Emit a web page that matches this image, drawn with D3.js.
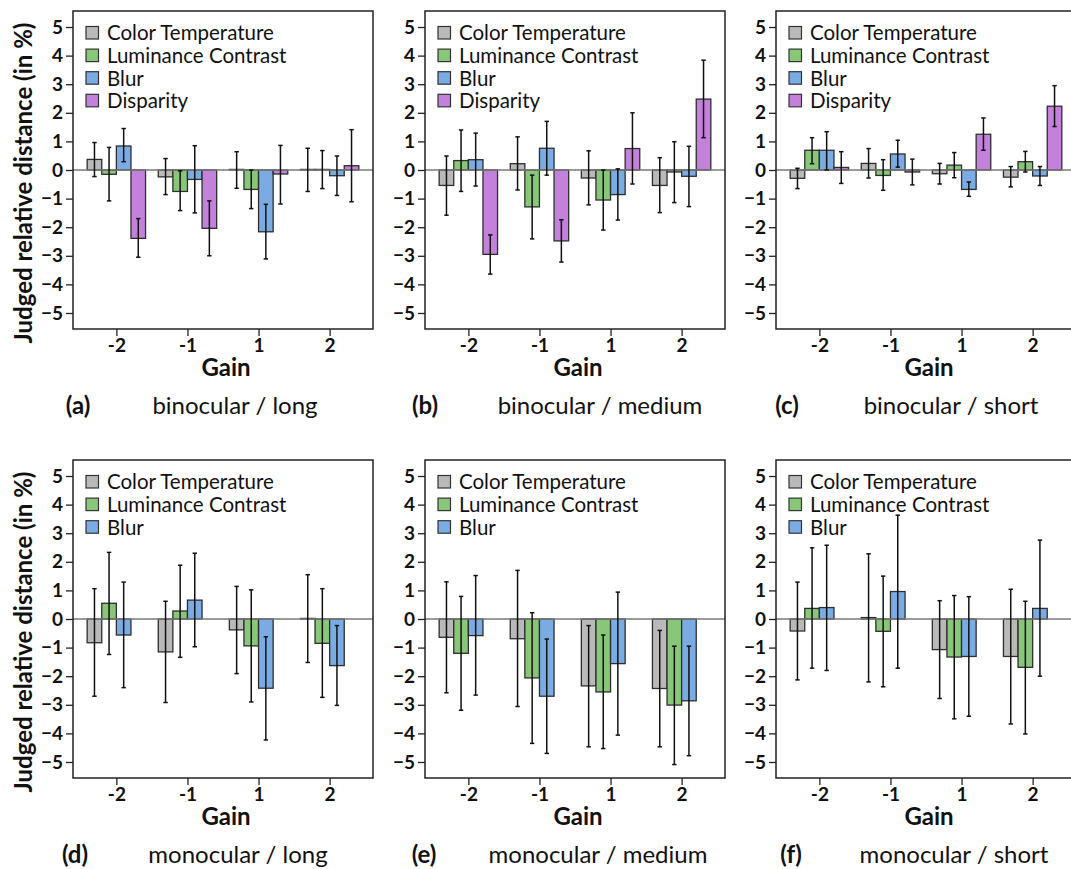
<!DOCTYPE html>
<html>
<head>
<meta charset="utf-8">
<script src="https://cdn.jsdelivr.net/npm/d3@7"></script>
<style>
  html, body { margin: 0; padding: 0; background: #fff; }
  svg { display: block; font-family: Lato, "Open Sans", sans-serif; }
</style>
</head>
<body>
<svg id="chart" width="1071" height="869"></svg>
<script>
// Categories and tick labels
const gains = ["-2", "-1", "1", "2"];
const seriesNames = ["Color Temperature", "Luminance Contrast", "Blur", "Disparity"];
const seriesColors = ["#b9b9b9", "#88c678", "#7aabe2", "#c481dc"];
const yTicks = [-5, -4, -3, -2, -1, 0, 1, 2, 3, 4, 5];

// Mean judged relative distance (%) per series (rows) and gain (columns)
const meanA = [[0.37, -0.24, 0.02, 0.02], [-0.15, -0.75, -0.68, 0.02], [0.84, -0.33, -2.16, -0.20], [-2.39, -2.04, -0.14, 0.15]];
const lowA  = [[-0.23, -0.86, -0.64, -0.75], [-1.08, -1.42, -1.35, -0.65], [0.29, -1.50, -3.11, -0.89], [-3.05, -3.00, -1.19, -1.11]];
const highA = [[0.96, 0.40, 0.64, 0.76], [0.79, -0.03, 0.00, 0.68], [1.45, 0.85, -1.20, 0.49], [-1.70, -1.08, 0.86, 1.41]];

const meanB = [[-0.54, 0.22, -0.28, -0.54], [0.33, -1.29, -1.05, -0.07], [0.36, 0.76, -0.86, -0.22], [-2.95, -2.48, 0.75, 2.48]];
const lowB  = [[-1.58, -0.70, -1.22, -1.49], [-0.75, -2.41, -2.10, -1.14], [-0.56, -0.18, -1.75, -1.28], [-3.64, -3.22, -0.49, 1.13]];
const highB = [[0.49, 1.16, 0.67, 0.43], [1.40, -0.18, 0.00, 0.99], [1.29, 1.70, 0.04, 0.83], [-2.27, -1.74, 2.00, 3.84]];

const meanC = [[-0.29, 0.23, -0.13, -0.25], [0.69, -0.19, 0.17, 0.29], [0.69, 0.56, -0.68, -0.21], [0.09, -0.07, 1.25, 2.23]];
const lowC  = [[-0.65, -0.28, -0.49, -0.59], [0.22, -0.71, -0.27, -0.07], [0.00, 0.10, -0.92, -0.54], [-0.47, -0.52, 0.69, 1.52]];
const highC = [[0.06, 0.75, 0.23, 0.12], [1.13, 0.36, 0.61, 0.65], [1.34, 1.04, -0.42, 0.12], [0.64, 0.38, 1.82, 2.95]];

const meanD = [[-0.83, -1.15, -0.38, 0.02], [0.55, 0.28, -0.94, -0.85], [-0.56, 0.66, -2.42, -1.63]];
const lowD  = [[-2.70, -2.92, -1.91, -1.52], [-1.24, -1.34, -2.90, -2.74], [-2.40, -0.97, -4.23, -3.02]];
const highD = [[1.06, 0.62, 1.14, 1.55], [2.33, 1.88, 1.02, 1.06], [1.29, 2.30, -0.62, -0.23]];

const meanE = [[-0.64, -0.69, -2.34, -2.43], [-1.20, -2.06, -2.55, -3.01], [-0.58, -2.70, -1.56, -2.86]];
const lowE  = [[-2.58, -3.06, -4.47, -4.47], [-3.19, -4.35, -4.53, -5.09], [-2.66, -4.70, -4.06, -4.78]];
const highE = [[1.30, 1.70, -0.23, -0.40], [0.79, 0.22, -0.56, -0.95], [1.52, -0.70, 0.94, -0.95]];

const meanF = [[-0.42, 0.05, -1.07, -1.31], [0.37, -0.43, -1.33, -1.69], [0.40, 0.96, -1.31, 0.37]];
const lowF  = [[-2.13, -2.20, -2.78, -3.67], [-1.72, -2.37, -3.49, -4.02], [-1.80, -1.72, -3.40, -2.00]];
const highF = [[1.29, 2.28, 0.64, 1.04], [2.49, 1.50, 0.82, 0.62], [2.58, 3.63, 0.78, 2.76]];

const panelTags = ["(a)", "(b)", "(c)", "(d)", "(e)", "(f)"];
const panelTitles = ["binocular / long", "binocular / medium", "binocular / short",
                     "monocular / long", "monocular / medium", "monocular / short"];

// Layout of the 2x3 grid
const panels = [
  { mean: meanA, low: lowA, high: highA, x0: 73,  y0: 11,  tagX: 78,  titleX: 235 },
  { mean: meanB, low: lowB, high: highB, x0: 425, y0: 11,  tagX: 425, titleX: 600 },
  { mean: meanC, low: lowC, high: highC, x0: 776, y0: 11,  tagX: 787, titleX: 951 },
  { mean: meanD, low: lowD, high: highD, x0: 73,  y0: 460, tagX: 75,  titleX: 238 },
  { mean: meanE, low: lowE, high: highE, x0: 425, y0: 460, tagX: 424, titleX: 598 },
  { mean: meanF, low: lowF, high: highF, x0: 776, y0: 460, tagX: 791, titleX: 954 }
];
const W = 300, H = 318;

const svg = d3.select("#chart");

panels.forEach((p, i) => {
  const g = svg.append("g").attr("transform", `translate(${p.x0},${p.y0})`);

  const x0 = d3.scalePoint().domain(gains).range([0, W]).padding(0.61);
  const x1 = d3.scaleBand().domain(seriesNames).range([-29.2, 29.2]);
  const y = d3.scaleLinear().domain([-5.56, 5.56]).range([H, 0]);

  // rows = series, cols = gains
  const recs = [];
  p.mean.forEach((row, s) => row.forEach((v, k) => {
    recs.push({ s, gain: gains[k], v, lo: p.low[s][k], hi: p.high[s][k] });
  }));

  // Bars
  g.selectAll("rect.bar").data(recs).join("rect")
    .attr("class", "bar")
    .attr("x", d => x0(d.gain) + x1(seriesNames[d.s]))
    .attr("width", x1.bandwidth())
    .attr("y", d => y(Math.max(0, d.v)))
    .attr("height", d => Math.abs(y(d.v) - y(0)))
    .attr("fill", d => seriesColors[d.s])
    .attr("stroke", "#2e2e2e")
    .attr("stroke-width", 1.3);

  // Zero line
  g.append("line")
    .attr("x1", 0).attr("x2", W)
    .attr("y1", y(0)).attr("y2", y(0))
    .attr("stroke", "#7a7a7a").attr("stroke-width", 1.5);

  // Error bars
  const eb = g.selectAll("g.err").data(recs).join("g").attr("class", "err")
    .attr("transform", d => `translate(${x0(d.gain) + x1(seriesNames[d.s]) + x1.bandwidth() / 2},0)`);
  eb.append("line").attr("y1", d => y(d.lo)).attr("y2", d => y(d.hi))
    .attr("stroke", "#111").attr("stroke-width", 1.5);
  eb.append("line").attr("x1", -2.2).attr("x2", 2.2)
    .attr("y1", d => y(d.lo)).attr("y2", d => y(d.lo))
    .attr("stroke", "#111").attr("stroke-width", 1.5);
  eb.append("line").attr("x1", -2.2).attr("x2", 2.2)
    .attr("y1", d => y(d.hi)).attr("y2", d => y(d.hi))
    .attr("stroke", "#111").attr("stroke-width", 1.5);

  // Frame
  g.append("rect").attr("width", W).attr("height", H)
    .attr("fill", "none").attr("stroke", "#222").attr("stroke-width", 1.5);

  // Y axis
  const yAxis = g.append("g").call(
    d3.axisLeft(y).tickValues(yTicks).tickSize(7).tickSizeOuter(0).tickPadding(3).tickFormat(d3.format("d")));
  yAxis.select(".domain").remove();
  yAxis.selectAll("line").attr("stroke", "#222").attr("stroke-width", 1.3);
  yAxis.selectAll("text").attr("font-size", 19).attr("font-weight", "bold")
    .attr("fill", "#111").attr("font-family", "Lato, sans-serif");

  // X axis
  const xAxis = g.append("g").attr("transform", `translate(0,${H})`).call(
    d3.axisBottom(x0).tickSize(7).tickSizeOuter(0).tickPadding(3));
  xAxis.select(".domain").remove();
  xAxis.selectAll("line").attr("stroke", "#222").attr("stroke-width", 1.3);
  xAxis.selectAll("text").attr("font-size", 19).attr("font-weight", "bold")
    .attr("fill", "#111").attr("font-family", "Lato, sans-serif");

  g.append("text").attr("x", W / 2 + 3).attr("y", H + 47)
    .attr("text-anchor", "middle").attr("font-size", 24).attr("font-weight", "bold")
    .attr("fill", "#111").text("Gain");

  // Legend
  const nSeries = p.mean.length;
  const leg = g.append("g").attr("transform", "translate(13,22)");
  seriesNames.slice(0, nSeries).forEach((name, s) => {
    const row = leg.append("g").attr("transform", `translate(0,${s * 22.6})`);
    row.append("rect").attr("x", 0).attr("y", -6.5).attr("width", 12.5).attr("height", 12.5)
      .attr("fill", seriesColors[s]).attr("stroke", "#333").attr("stroke-width", 1.2);
    row.append("text").attr("x", 21).attr("y", 0).attr("dy", "0.36em")
      .attr("font-size", 20.5).attr("fill", "#111").text(name);
  });

  // Caption
  const capY = p.y0 + H + 85;
  svg.append("text").attr("x", p.tagX).attr("y", capY).attr("text-anchor", "middle")
    .attr("font-size", 24).attr("font-weight", "bold").attr("fill", "#111").text(panelTags[i]);
  svg.append("text").attr("x", p.titleX).attr("y", capY).attr("text-anchor", "middle")
    .attr("font-size", 24).attr("fill", "#111").text(panelTitles[i]);

  // Y axis title on the left column
  if (p.x0 < 100) {
    svg.append("text")
      .attr("transform", `translate(32,${p.y0 + 172}) rotate(-90)`)
      .attr("text-anchor", "middle").attr("font-size", 24).attr("font-weight", "bold")
      .attr("fill", "#111").text("Judged relative distance (in %)");
  }
});
</script>
</body>
</html>
